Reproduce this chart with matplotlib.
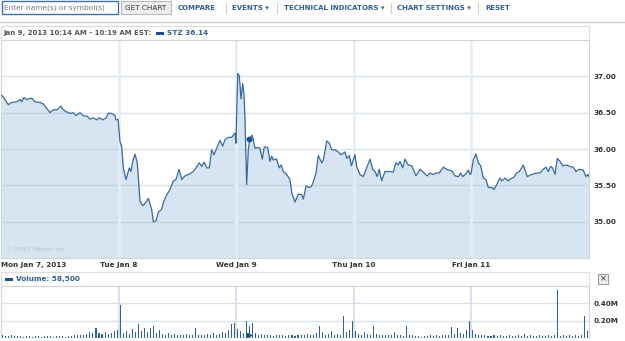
import matplotlib.pyplot as plt
from matplotlib.patches import Rectangle

W, H = 625, 341

# price trace: time in trading days since Mon open, price in USD
mon_t = [0.006, 0.034, 0.062, 0.091, 0.134, 0.162, 0.176, 0.196, 0.219, 0.261, 0.289, 0.332,
         0.360, 0.389, 0.417, 0.445, 0.479, 0.508, 0.530, 0.559, 0.587, 0.615, 0.638, 0.672,
         0.700, 0.734, 0.757, 0.785, 0.814, 0.836, 0.865, 0.893, 0.912, 0.941, 0.969, 0.978, 0.995]
mon_p = [36.74, 36.68, 36.61, 36.64, 36.65, 36.68, 36.65, 36.71, 36.68, 36.70, 36.65, 36.64,
         36.62, 36.56, 36.50, 36.54, 36.54, 36.59, 36.54, 36.51, 36.49, 36.50, 36.46, 36.50,
         36.46, 36.45, 36.41, 36.43, 36.40, 36.43, 36.40, 36.43, 36.49, 36.49, 36.46, 36.40, 36.41]

tue_t = [1.012, 1.026, 1.040, 1.063, 1.091, 1.105, 1.120, 1.139, 1.159, 1.182, 1.205, 1.230,
         1.253, 1.281, 1.295, 1.318, 1.338, 1.366, 1.380, 1.409, 1.437, 1.465, 1.488, 1.514,
         1.537, 1.565, 1.607, 1.635, 1.658, 1.686, 1.707, 1.726, 1.749, 1.771, 1.792, 1.811,
         1.834, 1.862, 1.885, 1.905, 1.933, 1.962, 1.990, 1.998]
tue_p = [36.10, 36.03, 35.74, 35.58, 35.74, 35.69, 35.83, 35.93, 35.81, 35.28, 35.22, 35.26,
         35.32, 35.17, 35.00, 35.01, 35.13, 35.17, 35.26, 35.37, 35.44, 35.56, 35.58, 35.72,
         35.58, 35.63, 35.66, 35.69, 35.74, 35.81, 35.76, 35.82, 35.74, 35.74, 35.99, 35.92,
         36.01, 36.12, 36.04, 36.13, 36.16, 36.16, 36.22, 36.08]

wed_t = [2.013, 2.026, 2.041, 2.055, 2.066, 2.075, 2.089, 2.103, 2.117, 2.137, 2.160, 2.183,
         2.202, 2.222, 2.239, 2.268, 2.287, 2.302, 2.315, 2.344, 2.366, 2.381, 2.401, 2.429,
         2.457, 2.472, 2.500, 2.528, 2.557, 2.571, 2.594, 2.622, 2.642, 2.662, 2.679, 2.698,
         2.727, 2.741, 2.770, 2.792, 2.812, 2.840, 2.868, 2.889, 2.911, 2.925, 2.940, 2.962,
         2.980, 2.996]
wed_p = [37.04, 37.01, 36.69, 36.90, 36.76, 36.40, 35.51, 35.99, 36.15, 36.19, 36.01, 36.02,
         36.01, 35.86, 36.03, 36.02, 35.83, 35.90, 35.85, 35.86, 35.74, 35.78, 35.69, 35.65,
         35.58, 35.40, 35.27, 35.38, 35.37, 35.31, 35.49, 35.47, 35.49, 35.58, 35.67, 35.91,
         35.81, 35.85, 36.11, 36.08, 35.99, 35.99, 35.96, 35.92, 35.94, 35.96, 35.87, 35.91,
         35.77, 35.85]

thu_t = [3.010, 3.024, 3.052, 3.080, 3.109, 3.138, 3.160, 3.180, 3.199, 3.216, 3.237, 3.265,
         3.308, 3.335, 3.358, 3.378, 3.393, 3.416, 3.435, 3.463, 3.492, 3.529, 3.563, 3.591,
         3.625, 3.648, 3.676, 3.705, 3.727, 3.761, 3.790, 3.832, 3.861, 3.889, 3.909, 3.926,
         3.954, 3.974, 3.988, 3.997]
thu_p = [35.92, 35.76, 35.65, 35.62, 35.74, 35.86, 35.72, 35.69, 35.62, 35.72, 35.56, 35.69,
         35.69, 35.68, 35.81, 35.78, 35.83, 35.74, 35.86, 35.78, 35.77, 35.63, 35.72, 35.68,
         35.63, 35.67, 35.65, 35.67, 35.67, 35.75, 35.72, 35.70, 35.63, 35.62, 35.67, 35.62,
         35.66, 35.71, 35.65, 35.66]

fri_t = [4.016, 4.039, 4.059, 4.079, 4.101, 4.124, 4.144, 4.173, 4.192, 4.215, 4.243, 4.258,
         4.286, 4.314, 4.343, 4.362, 4.385, 4.407, 4.428, 4.441, 4.475, 4.513, 4.555, 4.583,
         4.611, 4.634, 4.654, 4.674, 4.691, 4.711, 4.730, 4.753, 4.776, 4.810, 4.838, 4.867,
         4.889, 4.917, 4.951, 4.974, 4.990, 5.000]
fri_p = [35.85, 35.93, 35.81, 35.77, 35.60, 35.58, 35.47, 35.47, 35.44, 35.51, 35.60, 35.56,
         35.60, 35.56, 35.60, 35.61, 35.67, 35.69, 35.74, 35.78, 35.62, 35.65, 35.67, 35.67,
         35.72, 35.75, 35.69, 35.76, 35.74, 35.65, 35.87, 35.83, 35.77, 35.78, 35.76, 35.75,
         35.69, 35.72, 35.71, 35.62, 35.65, 35.62]

# volume in millions, 10-minute buckets (39 per day)
mon_v = [0.03, 0.02, 0.02, 0.04, 0.02, 0.02, 0.02, 0.01, 0.02, 0.02, 0.01, 0.02, 0.02,
         0.01, 0.02, 0.02, 0.02, 0.01, 0.02, 0.02, 0.02, 0.01, 0.02, 0.02, 0.03, 0.03,
         0.04, 0.03, 0.05, 0.07, 0.06, 0.11, 0.06, 0.05, 0.07, 0.05, 0.06, 0.08, 0.09]
tue_v = [0.38, 0.06, 0.08, 0.05, 0.10, 0.07, 0.16, 0.08, 0.12, 0.07, 0.11, 0.14, 0.06,
         0.09, 0.05, 0.04, 0.06, 0.04, 0.05, 0.03, 0.04, 0.03, 0.05, 0.04, 0.03, 0.12,
         0.04, 0.03, 0.04, 0.05, 0.03, 0.06, 0.04, 0.05, 0.07, 0.06, 0.09, 0.16, 0.17]
wed_v = [0.10, 0.08, 0.06, 0.20, 0.14, 0.17, 0.06, 0.04, 0.05, 0.03, 0.04, 0.03, 0.02,
         0.04, 0.03, 0.03, 0.02, 0.04, 0.03, 0.02, 0.03, 0.04, 0.03, 0.05, 0.04, 0.03,
         0.06, 0.14, 0.07, 0.04, 0.05, 0.08, 0.04, 0.05, 0.03, 0.25, 0.07, 0.09, 0.20]
thu_v = [0.08, 0.05, 0.04, 0.07, 0.05, 0.04, 0.14, 0.05, 0.03, 0.04, 0.03, 0.04, 0.03,
         0.07, 0.04, 0.03, 0.02, 0.14, 0.04, 0.03, 0.02, 0.02, 0.01, 0.02, 0.02, 0.03,
         0.02, 0.03, 0.02, 0.03, 0.04, 0.03, 0.13, 0.05, 0.11, 0.06, 0.05, 0.09, 0.20]
fri_v = [0.09, 0.05, 0.04, 0.03, 0.03, 0.02, 0.02, 0.03, 0.02, 0.03, 0.02, 0.02, 0.03,
         0.02, 0.02, 0.03, 0.02, 0.05, 0.02, 0.03, 0.02, 0.02, 0.03, 0.02, 0.02, 0.03,
         0.02, 0.03, 0.55, 0.02, 0.03, 0.02, 0.03, 0.02, 0.03, 0.02, 0.03, 0.25, 0.08]

day_labels = ["Mon Jan 7, 2013", "Tue Jan 8", "Wed Jan 9", "Thu Jan 10", "Fri Jan 11"]
price_ticks = [35.0, 35.5, 36.0, 36.5, 37.0]
vol_ticks = [0.2, 0.4]
cur_t, cur_p = 2.113, 36.14

price_t = mon_t + tue_t + wed_t + thu_t + fri_t
price_p = mon_p + tue_p + wed_p + thu_p + fri_p
vol_days = [mon_v, tue_v, wed_v, thu_v, fri_v]
vol_t, vol_v = [], []
for d, vals in enumerate(vol_days):
    for i, v in enumerate(vals):
        vol_t.append(d + (i + 0.5) / len(vals))
        vol_v.append(v)

LINE = '#37699d'
FILL = '#d6e5f1'
HGRID = '#b4c6d8'
VGRID = '#e6edf4'
BORDER = '#cfd6dd'
LINK = '#2e5f95'
TXT = '#333333'
FS = 5.2
FS_UI = 5.0


def px_rect(x0, y0, x1, y1):
    return [x0 / W, 1 - y1 / H, (x1 - x0) / W, (y1 - y0) / H]


fig = plt.figure(figsize=(W / 100, H / 100), dpi=100)
fig.patch.set_facecolor('white')

# overlay for the page chrome, in pixel coords
ui = fig.add_axes([0, 0, 1, 1])
ui.set_xlim(0, W)
ui.set_ylim(H, 0)
ui.axis('off')

ui.add_patch(Rectangle((2, 1), 116, 13, fc='white', ec='#3d6fb4', lw=1))
ui.text(4, 7.8, "Enter name(s) or symbol(s)", fontsize=5.3, color='#777777', va='center')
ui.add_patch(Rectangle((121, 1), 50, 13, fc='#eeeeee', ec='#bbbbbb', lw=0.8))
ui.text(146, 7.8, "GET CHART", fontsize=FS, color=TXT, va='center', ha='center')
links = [(178, "COMPARE"), (232, "EVENTS \u25BE"), (284, "TECHNICAL INDICATORS \u25BE"),
         (397, "CHART SETTINGS \u25BE"), (485, "RESET")]
for x, s in links:
    ui.text(x, 7.8, s, fontsize=FS_UI, color=LINK, va='center', fontweight='bold')
for x in [226, 277, 391, 478]:
    ui.plot([x, x], [3, 13], color='#d0d0d0', lw=0.8)
ui.plot([0, W], [21.7, 21.7], color='#cccccc', lw=1)

# price header
ui.add_patch(Rectangle((1, 26), 588, 14, fc='white', ec='#dddddd', lw=0.8))
ui.text(3, 33.2, "Jan 9, 2013 10:14 AM - 10:19 AM EST:", fontsize=FS_UI, color='#555555',
        va='center', fontweight='bold')
ui.add_patch(Rectangle((156, 32), 8, 2.5, fc='#1f4f8a', ec='none'))
ui.text(167, 33.2, "STZ 36.14", fontsize=FS, color=LINK, va='center', fontweight='bold')

# volume header
ui.add_patch(Rectangle((1, 272), 588, 14, fc='white', ec='#dddddd', lw=0.8))
ui.add_patch(Rectangle((5, 278), 8, 2.5, fc='#1f4f8a', ec='none'))
ui.text(16, 279.2, "Volume: 58,500", fontsize=FS, color=LINK, va='center', fontweight='bold')
ui.add_patch(Rectangle((598, 274), 10, 10, fc='#eeeeee', ec='#999999', lw=0.8))
ui.text(603, 279, "\u00d7", fontsize=6, color='#333333', va='center', ha='center')

# price panel
ax = fig.add_axes(px_rect(1, 40, 589, 258))
ax.fill_between(price_t, price_p, 34.5, color=FILL, lw=0, zorder=1)
for y in price_ticks:
    ax.axhline(y, color=HGRID, alpha=0.5, lw=1, zorder=2)
for d in range(1, 5):
    ax.axvline(d, color=VGRID, lw=1.8, zorder=2)
ax.plot(price_t, price_p, color=LINE, lw=0.9, zorder=3)
ax.plot([cur_t], [cur_p], 'o', color='#1f4f8a', ms=3.2, zorder=4)
ax.set_xlim(0, 5)
ax.set_ylim(34.5, 37.5)
ax.yaxis.tick_right()
ax.set_yticks(price_ticks)
ax.set_yticklabels([f"{v:.2f}" for v in price_ticks])
ax.set_xticks(range(5))
ax.set_xticklabels(day_labels)
ax.tick_params(length=0, labelsize=FS, labelcolor=TXT, pad=3)
for lab in ax.get_yticklabels() + ax.get_xticklabels():
    lab.set_fontweight('bold')
ax.get_xticklabels()[0].set_ha('left')
ax.get_xticklabels()[0].set_x(0.01)
for s in ax.spines.values():
    s.set_color(BORDER)
    s.set_linewidth(0.8)
ax.text(0.008, 0.03, "\u00a9 2013 Yahoo! Inc.", transform=ax.transAxes, fontsize=4.5,
        color='#b5c3d1', zorder=5)

# volume panel
av = fig.add_axes(px_rect(1, 286, 589, 338))
for y in vol_ticks:
    av.axhline(y, color=HGRID, alpha=0.5, lw=1, zorder=1)
for d in range(1, 5):
    av.axvline(d, color='#d3dee8', lw=1.2, zorder=1)
av.bar(vol_t, vol_v, width=0.009, color='#2f6299', lw=0, zorder=2)
av.plot([cur_t], [0.03], '>', color='#1f4f8a', ms=3, zorder=3)
av.set_xlim(0, 5)
av.set_ylim(0, 0.6)
av.yaxis.tick_right()
av.set_yticks(vol_ticks)
av.set_yticklabels([f"{v:.2f}M" for v in vol_ticks])
av.set_xticks([])
av.tick_params(length=0, labelsize=FS, labelcolor=TXT, pad=3)
for lab in av.get_yticklabels():
    lab.set_fontweight('bold')
for s in av.spines.values():
    s.set_color(BORDER)
    s.set_linewidth(0.8)
av.spines['bottom'].set_visible(False)

fig.savefig('out.png', dpi=100, facecolor='white')
